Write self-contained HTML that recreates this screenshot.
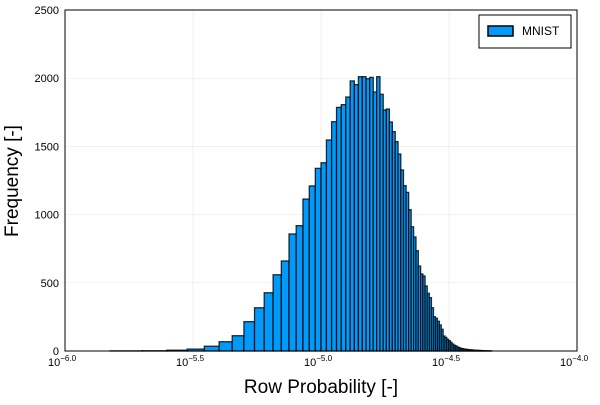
<!DOCTYPE html>
<html><head><meta charset="utf-8"><style>
body{margin:0;background:#fff}
svg{font-family:"Liberation Sans",sans-serif}
</style></head><body>
<svg id="c" width="600" height="400" xmlns="http://www.w3.org/2000/svg">
<rect width="600" height="400" fill="#fff"/>
<g id="grid"></g>
<g id="bars"></g>
<rect x="65" y="10" width="512" height="341" fill="none" stroke="#000" stroke-width="1"/>
<g id="ticks"></g>
<text x="321" y="393" text-anchor="middle" font-size="19">Row Probability [-]</text>
<text transform="translate(18,181) rotate(-90)" text-anchor="middle" font-size="19">Frequency [-]</text>
<g>
<rect x="479" y="15" width="92" height="33" fill="#fff" stroke="#000" stroke-width="1"/>
<rect x="488" y="26" width="25" height="10" fill="#009AFA" stroke="#000" stroke-width="1.5"/>
<text x="522" y="35" font-size="12">MNIST</text>
</g>
</svg>
<script>
const binStart = 1.0e-6;
const binWidth = 0.5e-6;
const counts = [0,1,2,6,14,35,68,112,215,317,427,559,660,858,919,1114,1210,1339,1380,1547,1681,1786,1806,1862,1980,1953,2011,2011,1996,2006,1899,2011,1882,1767,1774,1679,1608,1535,1444,1327,1212,1163,1036,911,836,735,623,565,550,477,423,391,317,251,240,218,191,159,110,100,86,76,64,51,42,37,29,24,20,17,15,13,12,10,9,8,7,6,5,5,4,4,3,3,2,2,2,1,1,1,1];
const xTickExps = [-6.0,-5.5,-5.0,-4.5,-4.0];
const xTickLabels = ["−6.0","−5.5","−5.0","−4.5","−4.0"];
const yTicks = [0,500,1000,1500,2000,2500];

const NS="http://www.w3.org/2000/svg";
const X0=65,X1=577,Y0=351,Y1=10;
const xs=v=>X0+(Math.log10(v)+6)/2*(X1-X0);
const ys=c=>Y0-c/2500*(Y0-Y1);
function mk(tag,attrs,parent){const e=document.createElementNS(NS,tag);for(const k in attrs)e.setAttribute(k,attrs[k]);parent.appendChild(e);return e;}
const grid=document.getElementById('grid'),bars=document.getElementById('bars'),ticks=document.getElementById('ticks');
xTickExps.forEach((ex,i)=>{
  const x=X0+(ex+6)/2*(X1-X0);
  const g=mk('line',{x1:x,x2:x,y1:Y1,y2:Y0,stroke:'#000','stroke-opacity':0.1,'stroke-width':0.5},grid);
  
  
  const t=mk('text',{x:x-3,y:366,'text-anchor':'middle','font-size':11},ticks);
  
  
  t.textContent='10';
  const s=mk('tspan',{dy:-5,'font-size':8},t);s.textContent=xTickLabels[i];
});
yTicks.forEach(v=>{
  const y=ys(v);
  const g=mk('line',{x1:X0,x2:X1,y1:y,y2:y,stroke:'#000','stroke-opacity':0.1,'stroke-width':0.5},grid);
  
  
  const t=mk('text',{x:59,y:y+4,'text-anchor':'end','font-size':11},ticks);
  
  
  t.textContent=v;
});
counts.forEach((c,i)=>{
  const a=binStart+i*binWidth,b=a+binWidth;
  const x=xs(a),w=xs(b)-x,y=ys(c);
  const r=mk('rect',{x:x,y:y,width:w,height:Y0-y,fill:'#009AFA',stroke:'#000','stroke-opacity':0.8,'stroke-width':1.3},bars);
  
  
});
</script>
</body></html>
